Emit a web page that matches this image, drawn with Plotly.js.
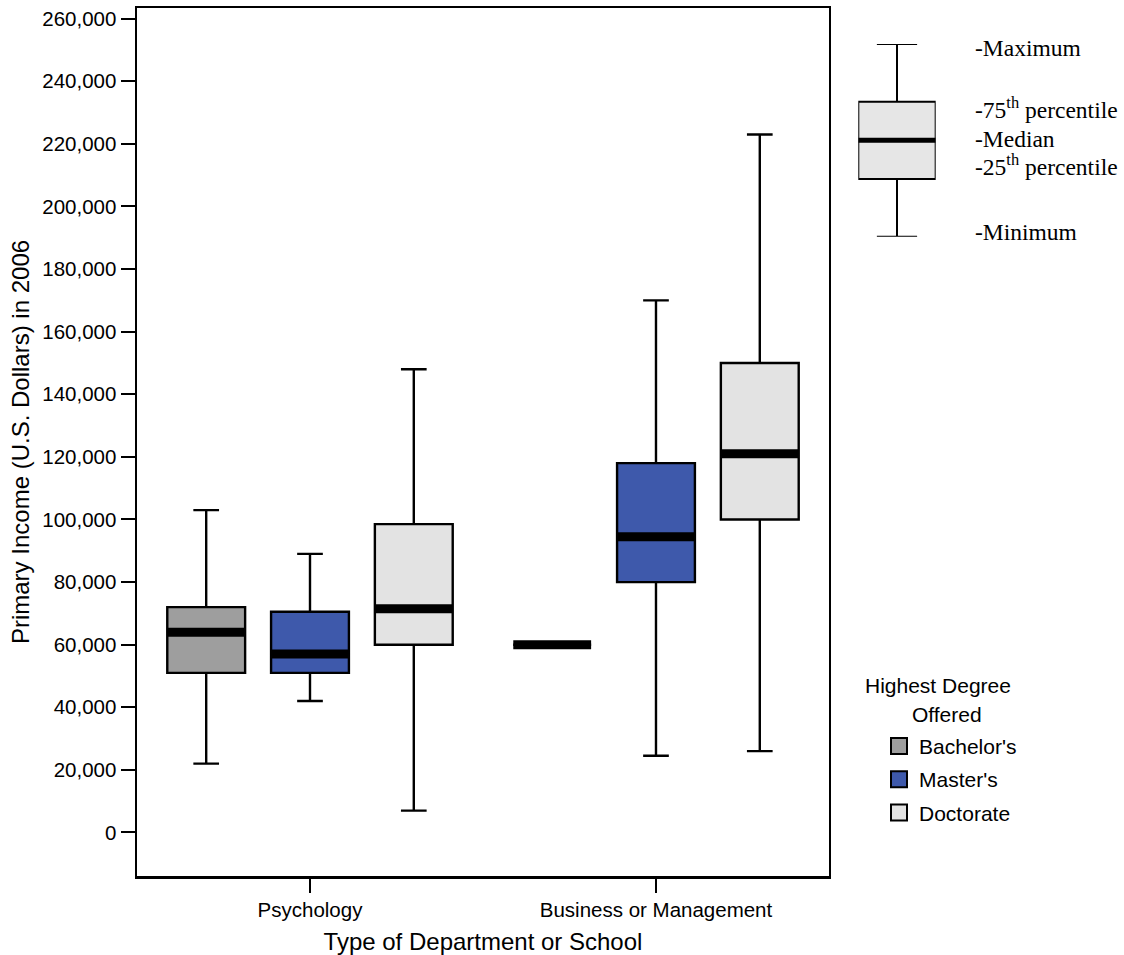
<!DOCTYPE html>
<html>
<head>
<meta charset="utf-8">
<script src="https://cdn.plot.ly/plotly-3.0.1.min.js"></script>
<style>
  html, body { margin: 0; padding: 0; background: #ffffff; }
  #chart { width: 1124px; height: 955px; }
</style>
</head>
<body>
<div id="chart"></div>
<script>
// Department types along the x axis
const categories = ['Psychology', 'Business or Management'];

// Highest degree offered (one box series each)
const degrees = ["Bachelor's", "Master's", 'Doctorate'];
const degreeColors = ['#9e9e9e', '#3e59ab', '#e3e3e3'];

// Five-number summaries of 2006 primary income, per department type
const bachelorMin    = [22000, 60000];
const bachelorQ1     = [51000, 60000];
const bachelorMedian = [64000, 60000];
const bachelorQ3     = [72000, 60000];
const bachelorMax    = [103000, 60000];

const masterMin    = [42000, 24500];
const masterQ1     = [51000, 80000];
const masterMedian = [57000, 94500];
const masterQ3     = [70500, 118000];
const masterMax    = [89000, 170000];

const doctorateMin    = [7000, 26000];
const doctorateQ1     = [60000, 100000];
const doctorateMedian = [71500, 121000];
const doctorateQ3     = [98500, 150000];
const doctorateMax    = [148000, 223000];

// Explanatory key: a generic box with its five labelled parts
const keyStats  = [0, 30, 50, 70, 100]; // min, q1, median, q3, max
const keyLabels = ['-Maximum', '-75<sup>th</sup> percentile', '-Median',
                   '-25<sup>th</sup> percentile', '-Minimum'];

const summaries = [
  {min: bachelorMin,  q1: bachelorQ1,  med: bachelorMedian,  q3: bachelorQ3,  max: bachelorMax},
  {min: masterMin,    q1: masterQ1,    med: masterMedian,    q3: masterQ3,    max: masterMax},
  {min: doctorateMin, q1: doctorateQ1, med: doctorateMedian, q3: doctorateQ3, max: doctorateMax}
];

const SANS = 'Liberation Sans, Arial, Helvetica, sans-serif';
const SERIF = 'Liberation Serif, Times New Roman, serif';
const groupSpacing = 0.3;   // offset between neighbouring boxes within a category
const boxWidth = 0.225;     // box width in category units

const traces = [];

degrees.forEach((deg, i) => {
  const s = summaries[i];
  const xs = categories.map((c, k) => k + (i - 1) * groupSpacing);
  traces.push({
    type: 'box',
    name: deg,
    legendgroup: deg,
    showlegend: false,
    x: xs,
    q1: s.q1, median: s.med, q3: s.q3,
    lowerfence: s.min, upperfence: s.max,
    width: boxWidth,
    whiskerwidth: 0.33,
    boxpoints: false,
    fillcolor: degreeColors[i],
    line: {color: '#000000', width: 2.4},
    hoverinfo: 'skip'
  });
});

// Heavy median bars drawn over each box
degrees.forEach((deg, i) => {
  const s = summaries[i];
  const mx = [], my = [];
  categories.forEach((c, k) => {
    const cx = k + (i - 1) * groupSpacing;
    mx.push(cx - boxWidth / 2, cx + boxWidth / 2, null);
    my.push(s.med[k], s.med[k], null);
  });
  traces.push({
    type: 'scatter', mode: 'lines',
    x: mx, y: my,
    line: {color: '#000000', width: 9},
    legendgroup: deg,
    showlegend: false,
    hoverinfo: 'skip'
  });
});

// Legend entries: filled squares
degrees.forEach((deg, i) => {
  traces.push({
    type: 'scatter', mode: 'markers',
    name: deg,
    legendgroup: deg,
    x: [null], y: [null],
    marker: {symbol: 'square', size: 16, color: degreeColors[i],
             line: {color: '#000000', width: 2}},
    hoverinfo: 'skip'
  });
});

// Key box
traces.push({
  type: 'box',
  xaxis: 'x2', yaxis: 'y2',
  x: [0],
  lowerfence: [keyStats[0]], q1: [keyStats[1]], median: [keyStats[2]],
  q3: [keyStats[3]], upperfence: [keyStats[4]],
  width: 1,
  whiskerwidth: 0.52,
  boxpoints: false,
  fillcolor: '#e6e6e6',
  line: {color: '#000000', width: 2},
  showlegend: false,
  hoverinfo: 'skip'
});
traces.push({
  type: 'scatter', mode: 'lines',
  xaxis: 'x2', yaxis: 'y2',
  x: [-0.5, 0.5], y: [keyStats[2], keyStats[2]],
  line: {color: '#000000', width: 5},
  showlegend: false,
  hoverinfo: 'skip'
});

// Key labels sit beside the parts they describe
const keyLabelY = [keyStats[4] - 2, keyStats[3] - 3, keyStats[2] + 0.5, keyStats[1] + 7, keyStats[0] + 2.5];
const annotations = keyLabels.map((t, j) => ({
  xref: 'paper', yref: 'y2',
  x: 0.847, y: keyLabelY[j],
  xanchor: 'left', yanchor: 'middle',
  text: t, showarrow: false,
  font: {family: SERIF, size: 23.5, color: '#000000'}
}));

// Legend heading
annotations.push({
  xref: 'paper', yref: 'paper', x: 0.812, y: 0.220,
  xanchor: 'center', yanchor: 'middle', showarrow: false,
  text: 'Highest Degree', font: {family: SANS, size: 21, color: '#000000'}
});
annotations.push({
  xref: 'paper', yref: 'paper', x: 0.821, y: 0.186,
  xanchor: 'center', yanchor: 'middle', showarrow: false,
  text: 'Offered', font: {family: SANS, size: 21, color: '#000000'}
});

const axisCommon = {
  showline: true, linecolor: '#000000', linewidth: 2.5, mirror: true,
  ticks: 'outside', ticklen: 14, tickwidth: 2, tickcolor: '#000000',
  showgrid: false, zeroline: false,
  tickfont: {family: SANS, size: 20.5, color: '#000000'}
};

const layout = {
  width: 1124, height: 955,
  margin: {l: 137, r: 0, t: 8, b: 79},
  paper_bgcolor: '#ffffff', plot_bgcolor: '#ffffff',
  boxmode: 'overlay',
  showlegend: true,
  legend: {
    x: 0.7518, y: 0.173, xanchor: 'left', yanchor: 'top',
    font: {family: SANS, size: 21, color: '#000000'},
    bgcolor: 'rgba(0,0,0,0)', tracegroupgap: 3
  },
  xaxis: Object.assign({}, axisCommon, {
    domain: [0, 0.7011],
    range: [-0.5, 1.5],
    tickvals: categories.map((c, k) => k),
    ticktext: categories,
    title: {text: 'Type of Department or School', font: {family: SANS, size: 24, color: '#000000'}}
  }),
  yaxis: Object.assign({}, axisCommon, {
    range: [-13900, 263400],
    tick0: 0, dtick: 20000,
    tickformat: ',d',
    title: {text: 'Primary Income (U.S. Dollars) in 2006', standoff: 6,
            font: {family: SANS, size: 24, color: '#000000'}}
  }),
  xaxis2: {domain: [0.7308, 0.8092], range: [-0.5, 0.5], visible: false, anchor: 'y2', fixedrange: true},
  yaxis2: {domain: [0.7365, 0.9585], range: [0, 100], visible: false, anchor: 'x2', fixedrange: true},
  annotations: annotations
};

Plotly.newPlot('chart', traces, layout, {displayModeBar: false, staticPlot: true});
</script>
</body>
</html>
